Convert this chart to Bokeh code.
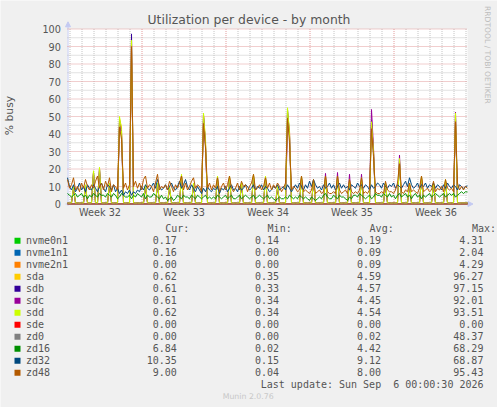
import math
from bokeh.plotting import figure
from bokeh.models import Range1d, Label, BoxAnnotation, Arrow, NormalHead
from bokeh.core.properties import value
from bokeh.embed import file_html
from bokeh.resources import INLINE

# ---------------- data ----------------
TITLE = "Utilization per device - by month"
Y_LABEL = "% busy"
WEEK_LABELS = ["Week 32", "Week 33", "Week 34", "Week 35", "Week 36"]
WEEK_LABEL_HOURS = [65, 233, 401, 569, 737]      # hours since start of graph
MONDAY_HOURS = [149, 317, 485, 653]
X_END_HOURS = 800
Y_TICKS = [0, 10, 20, 30, 40, 50, 60, 70, 80, 90, 100]
Y_MINOR = [5, 15, 25, 35, 45, 55, 65, 75, 85, 95]

sample_hours = list(range(0, 801, 4))           # one sample every 4 hours

zd48 = [
    14, 9, 11, 15, 8, 10,   7, 12, 9, 14, 10, 8,   11, 9, 13, 16, 9, 12,
    8, 13, 10, 15, 7, 11,   10, 8, 44, 37, 9, 12,  8, 11, 90, 10, 13, 9,
    12, 8, 14, 16, 9, 11,   10, 7, 12, 17, 8, 10,  9, 11, 8, 13, 10, 7,
    11, 9, 12, 16, 8, 12,   8, 10, 13, 15, 9, 11,  10, 7, 46, 32, 9, 12,
    8, 11, 9, 15, 7, 10,    12, 8, 11, 16, 9, 7,   9, 12, 8, 13, 10, 11,
    7, 10, 12, 17, 8, 9,    11, 8, 10, 15, 9, 12,  8, 11, 9, 12, 10, 7,
    9, 12, 49, 35, 8, 10,   9, 7, 8, 16, 7, 8,     7, 6, 8, 14, 6, 7,
    8, 6, 7, 16, 7, 6,      6, 7, 6, 16, 8, 6,     7, 8, 6, 14, 7, 6,
    7, 6, 8, 15, 6, 7,      6, 8, 43, 27, 7, 6,    6, 7, 6, 13, 8, 7,
    7, 6, 8, 12, 23, 7,     6, 8, 7, 12, 7, 8,     7, 6, 9, 16, 7, 8,
    9, 7, 8, 13, 7, 9,      8, 10, 7, 14, 9, 8,    9, 7, 47, 12, 8, 10,
    8, 10, 9.0,
]

zd32 = [
    15, 10, 8, 11, 7, 9,    12, 8, 10, 7, 11, 9,   8, 11, 9, 7, 10, 12,
    9, 7, 11, 10, 8, 11,    7, 9, 6, 8, 5, 7,      6, 8, 5, 7, 6, 8,
    7, 10, 8, 11, 9, 8,     10, 12, 9, 14, 10, 8,  9, 11, 8, 10, 12, 9,
    8, 10, 13, 9, 11, 14,   10, 8, 11, 9, 7, 10,   8, 6, 9, 7, 10, 8,
    7, 9, 8, 10, 6, 9,      8, 10, 7, 9, 11, 8,    9, 7, 10, 8, 9, 11,
    10, 8, 9, 11, 8, 10,    9, 11, 8, 10, 9, 7,    8, 10, 9, 11, 8, 9,
    10, 8, 11, 9, 7, 9,     11, 9, 12, 10, 8, 11,  9, 13, 10, 14, 11, 9,
    10, 8, 11, 9, 10, 12,   9, 11, 8, 10, 12, 9,   11, 9, 10, 8, 11, 10,
    9, 12, 10, 11, 9, 11,   10, 8, 11, 9, 10, 12,  11, 9, 12, 10, 9, 11,
    10, 12, 9, 11, 10, 9,   11, 13, 10, 15, 11, 9, 10, 12, 9, 11, 10, 12,
    9, 11, 10, 12, 9, 11,   10, 8, 11, 9, 12, 10,  9, 11, 10, 8, 11, 10,
    9, 10, 10.35,
]

zd16 = [
    6, 5, 4, 5, 6, 4,   5, 6, 4, 5, 3, 5,   4, 6, 5, 4, 6, 5,
    5, 4, 6, 5, 4, 6,   5, 3, 4, 6, 5, 4,   4, 5, 3, 5, 4, 6,
    5, 4, 6, 3, 5, 4,   4, 6, 5, 4, 3, 5,   3, 4, 2, 3, 4, 2,
    3, 5, 4, 3, 5, 4,   4, 3, 5, 4, 3, 5,   4, 3, 4, 5, 3, 4,
    3, 4, 3, 5, 4, 3,   4, 5, 3, 4, 5, 3,   3, 4, 5, 3, 4, 5,
    4, 3, 4, 5, 3, 4,   5, 4, 3, 4, 5, 3,   4, 3, 2, 3, 4, 3,
    3, 4, 3, 5, 4, 3,   4, 3, 5, 4, 3, 4,   3, 2, 4, 3, 2, 3,
    4, 3, 5, 6, 4, 3,   3, 5, 4, 3, 5, 4,   4, 3, 2, 4, 3, 5,
    5, 4, 6, 5, 4, 3,   4, 5, 3, 4, 6, 5,   5, 4, 6, 5, 4, 6,
    4, 5, 3, 5, 6, 4,   5, 6, 4, 5, 3, 5,   6, 4, 5, 3, 5, 4,
    5, 6, 4, 5, 6, 5,   4, 5, 6, 4, 5, 6,   5, 6, 4, 5, 6, 7,
    6, 7, 6.84,
]

sdd = [
    0.6, 0.5, 0.6, 10, 0.5, 0.6,   0.5, 0.6, 0.5, 11, 0.6, 0.5,   0.6, 19, 0.6, 0.5, 21, 0.6,
    0.5, 0.6, 0.5, 12, 0.6, 0.5,   0.6, 0.5, 50, 42, 0.6, 0.5,    0.6, 0.5, 93.5, 0.6, 0.5, 0.6,
    0.5, 0.6, 0.5, 11, 0.6, 0.5,   0.6, 0.5, 0.6, 12, 0.5, 0.6,   0.5, 0.6, 0.5, 10, 0.6, 0.5,
    0.6, 0.5, 0.6, 17, 0.5, 0.6,   0.5, 0.6, 0.5, 12, 0.6, 0.5,   0.6, 0.5, 52, 35, 0.6, 0.5,
    0.6, 0.5, 0.6, 16, 0.5, 0.6,   0.5, 0.6, 0.5, 16, 0.6, 0.5,   0.6, 0.5, 0.6, 12, 0.5, 0.6,
    0.5, 0.6, 0.5, 17, 0.6, 0.5,   0.6, 0.5, 0.6, 16, 0.5, 0.6,   0.5, 0.6, 0.5, 10, 0.6, 0.5,
    0.6, 0.5, 55, 40, 0.6, 0.5,    0.6, 0.5, 0.6, 16, 0.5, 0.6,   0.5, 0.6, 0.5, 14, 0.6, 0.5,
    0.6, 0.5, 0.6, 16, 0.5, 0.6,   0.5, 0.6, 0.5, 16, 0.6, 0.5,   0.6, 0.5, 0.6, 14, 0.5, 0.6,
    0.5, 0.6, 0.5, 15, 0.6, 0.5,   0.6, 0.5, 47, 30, 0.6, 0.5,    0.6, 0.5, 0.6, 12, 0.5, 0.6,
    0.5, 0.6, 0.5, 0.6, 26, 0.6,   0.6, 0.5, 0.6, 12, 0.5, 0.6,   0.5, 0.6, 0.5, 16, 0.6, 0.5,
    0.6, 0.5, 0.6, 12, 0.5, 0.6,   0.5, 0.6, 0.5, 14, 0.6, 0.5,   0.6, 0.5, 52, 0.6, 0.5, 0.6,
    0.6, 0.6, 0.62,
]

sda = [
    0.6, 0.5, 0.6, 9.5, 0.5, 0.6,  0.5, 0.6, 0.5, 10.5, 0.6, 0.5, 0.6, 18.5, 0.6, 0.5, 20.5, 0.6,
    0.5, 0.6, 0.5, 11.5, 0.6, 0.5, 0.6, 0.5, 49, 44, 0.6, 0.5,    0.6, 0.5, 96.3, 0.6, 0.5, 0.6,
    0.5, 0.6, 0.5, 10.5, 0.6, 0.5, 0.6, 0.5, 0.6, 11.5, 0.5, 0.6, 0.5, 0.6, 0.5, 9.5, 0.6, 0.5,
    0.6, 0.5, 0.6, 16.5, 0.5, 0.6, 0.5, 0.6, 0.5, 11.5, 0.6, 0.5, 0.6, 0.5, 51, 37, 0.6, 0.5,
    0.6, 0.5, 0.6, 15.5, 0.5, 0.6, 0.5, 0.6, 0.5, 15.5, 0.6, 0.5, 0.6, 0.5, 0.6, 11.5, 0.5, 0.6,
    0.5, 0.6, 0.5, 16.5, 0.6, 0.5, 0.6, 0.5, 0.6, 15.5, 0.5, 0.6, 0.5, 0.6, 0.5, 9.5, 0.6, 0.5,
    0.6, 0.5, 53, 42, 0.6, 0.5,    0.6, 0.5, 0.6, 15.5, 0.5, 0.6, 0.5, 0.6, 0.5, 13.5, 0.6, 0.5,
    0.6, 0.5, 0.6, 15.5, 0.5, 0.6, 0.5, 0.6, 0.5, 15.5, 0.6, 0.5, 0.6, 0.5, 0.6, 13.5, 0.5, 0.6,
    0.5, 0.6, 0.5, 14.5, 0.6, 0.5, 0.6, 0.5, 46, 31, 0.6, 0.5,    0.6, 0.5, 0.6, 11.5, 0.5, 0.6,
    0.5, 0.6, 0.5, 0.6, 25, 0.6,   0.6, 0.5, 0.6, 11.5, 0.5, 0.6, 0.5, 0.6, 0.5, 15.5, 0.6, 0.5,
    0.6, 0.5, 0.6, 11.5, 0.5, 0.6, 0.5, 0.6, 0.5, 13.5, 0.6, 0.5, 0.6, 0.5, 51, 0.6, 0.5, 0.6,
    0.6, 0.6, 0.62,
]

sdb = [
    0.6, 0.5, 0.6, 9, 0.5, 0.6,    0.5, 0.6, 0.5, 10, 0.6, 0.5,   0.6, 18, 0.6, 0.5, 20, 0.6,
    0.5, 0.6, 0.5, 11, 0.6, 0.5,   0.6, 0.5, 48, 41, 0.6, 0.5,    0.6, 0.5, 97.2, 0.6, 0.5, 0.6,
    0.5, 0.6, 0.5, 10, 0.6, 0.5,   0.6, 0.5, 0.6, 11, 0.5, 0.6,   0.5, 0.6, 0.5, 9, 0.6, 0.5,
    0.6, 0.5, 0.6, 16, 0.5, 0.6,   0.5, 0.6, 0.5, 11, 0.6, 0.5,   0.6, 0.5, 50, 34, 0.6, 0.5,
    0.6, 0.5, 0.6, 15, 0.5, 0.6,   0.5, 0.6, 0.5, 15, 0.6, 0.5,   0.6, 0.5, 0.6, 11, 0.5, 0.6,
    0.5, 0.6, 0.5, 16, 0.6, 0.5,   0.6, 0.5, 0.6, 15, 0.5, 0.6,   0.5, 0.6, 0.5, 9, 0.6, 0.5,
    0.6, 0.5, 54, 39, 0.6, 0.5,    0.6, 0.5, 0.6, 15, 0.5, 0.6,   0.5, 0.6, 0.5, 13, 0.6, 0.5,
    0.6, 0.5, 0.6, 15, 0.5, 0.6,   0.5, 0.6, 0.5, 15, 0.6, 0.5,   0.6, 0.5, 0.6, 13, 0.5, 0.6,
    0.5, 0.6, 0.5, 14, 0.6, 0.5,   0.6, 0.5, 48, 29, 0.6, 0.5,    0.6, 0.5, 0.6, 11, 0.5, 0.6,
    0.5, 0.6, 0.5, 0.6, 25, 0.6,   0.6, 0.5, 0.6, 11, 0.5, 0.6,   0.5, 0.6, 0.5, 15, 0.6, 0.5,
    0.6, 0.5, 0.6, 11, 0.5, 0.6,   0.5, 0.6, 0.5, 13, 0.6, 0.5,   0.6, 0.5, 50, 0.6, 0.5, 0.6,
    0.6, 0.6, 0.61,
]

sdc = [
    0.6, 0.5, 0.6, 9, 0.5, 0.6,    0.5, 0.6, 0.5, 10, 0.6, 0.5,   0.6, 18, 0.6, 0.5, 20, 0.6,
    0.5, 0.6, 0.5, 11, 0.6, 0.5,   0.6, 0.5, 47, 40, 0.6, 0.5,    0.6, 0.5, 92, 0.6, 0.5, 0.6,
    0.5, 0.6, 0.5, 10, 0.6, 0.5,   0.6, 0.5, 0.6, 11, 0.5, 0.6,   0.5, 0.6, 0.5, 9, 0.6, 0.5,
    0.6, 0.5, 0.6, 16, 0.5, 0.6,   0.5, 0.6, 0.5, 11, 0.6, 0.5,   0.6, 0.5, 51, 33, 0.6, 0.5,
    0.6, 0.5, 0.6, 15, 0.5, 0.6,   0.5, 0.6, 0.5, 15, 0.6, 0.5,   0.6, 0.5, 0.6, 11, 0.5, 0.6,
    0.5, 0.6, 0.5, 16, 0.6, 0.5,   0.6, 0.5, 0.6, 15, 0.5, 0.6,   0.5, 0.6, 0.5, 9, 0.6, 0.5,
    0.6, 0.5, 45, 41, 0.6, 0.5,    0.6, 0.5, 0.6, 15, 0.5, 0.6,   0.5, 0.6, 0.5, 13, 0.6, 0.5,
    0.6, 0.5, 0.6, 17.5, 0.5, 0.6, 0.5, 0.6, 0.5, 18, 0.6, 0.5,   0.6, 0.5, 0.6, 17, 0.5, 0.6,
    0.5, 0.6, 0.5, 17, 0.6, 0.5,   0.6, 0.5, 54, 32, 0.6, 0.5,    0.6, 0.5, 0.6, 11, 0.5, 0.6,
    0.5, 0.6, 0.5, 0.6, 28, 0.6,   0.6, 0.5, 0.6, 11, 0.5, 0.6,   0.5, 0.6, 0.5, 15, 0.6, 0.5,
    0.6, 0.5, 0.6, 11, 0.5, 0.6,   0.5, 0.6, 0.5, 13, 0.6, 0.5,   0.6, 0.5, 52.5, 0.6, 0.5, 0.6,
    0.6, 0.6, 0.61,
]

# near-zero devices, sampled sparsely
low_hours = [0, 200, 400, 600, 800]
nvme0n1 = [0.20, 0.18, 0.19, 0.20, 0.17]
nvme1n1 = [0.10, 0.08, 0.09, 0.10, 0.16]
nvme2n1 = [0.10, 0.09, 0.08, 0.10, 0.00]
sde = [0.0, 0.0, 0.0, 0.0, 0.0]
zd0 = [0.0, 0.0, 0.0, 0.0, 0.0]

NAMES = ["nvme0n1", "nvme1n1", "nvme2n1", "sda", "sdb", "sdc", "sdd", "sde",
         "zd0", "zd16", "zd32", "zd48"]
COLORS = ["#00CC00", "#0066B3", "#FF8000", "#FFCC00", "#330099", "#990099",
          "#CCFF00", "#FF0000", "#808080", "#008F00", "#00487D", "#B35A00"]
CUR = [0.17, 0.16, 0.00, 0.62, 0.61, 0.61, 0.62, 0.00, 0.00, 6.84, 10.35, 9.00]
MIN = [0.14, 0.00, 0.00, 0.35, 0.33, 0.34, 0.34, 0.00, 0.00, 0.02, 0.15, 0.04]
AVG = [0.19, 0.09, 0.09, 4.59, 4.57, 4.45, 4.54, 0.00, 0.02, 4.42, 9.12, 8.00]
MAX = [4.31, 2.04, 4.29, 96.27, 97.15, 92.01, 93.51, 0.00, 48.37, 68.29, 68.87, 95.43]
LAST_UPDATE = "Last update: Sun Sep \u00a06 00:00:30 2026"
FOOTER = "Munin 2.0.76"
WATERMARK = "RRDTOOL / TOBI OETIKER"

# ---------------- layout / style ----------------
W, H = 497, 407
PLOT_X0, PX_PER_HOUR = 67.0, 0.5      # page x of hour 0, pixels per hour
PLOT_Y0, PX_PER_UNIT = 203.5, 1.75    # page y of 0 %, pixels per percent
FONT = "DejaVu Sans"
MONO = "DejaVu Sans Mono"
FONT_COL = "#555555"
AXIS_COL = "#c4caf2"
MGRID_COL = "#e39c9c"
GRID_COL = "#c4c4c4"

p = figure(width=W, height=H,
           x_range=Range1d(-PLOT_X0 / PX_PER_HOUR, (W - PLOT_X0) / PX_PER_HOUR),
           y_range=Range1d(-(H - PLOT_Y0) / PX_PER_UNIT, PLOT_Y0 / PX_PER_UNIT),
           output_backend="svg", toolbar_location=None,
           x_axis_location=None, y_axis_location=None,
           min_border=0, background_fill_color="#f0f0f0",
           border_fill_color="#f0f0f0", outline_line_color=None)
p.grid.visible = False
p.title.visible = False

# white canvas of the graph
p.add_layout(BoxAnnotation(left=0, right=X_END_HOURS, bottom=0, top=100,
                           fill_color="white", fill_alpha=1.0, line_color=None,
                           level="underlay"))

# grid
day_hours = [h for h in range(5, X_END_HOURS + 1, 24) if h not in MONDAY_HOURS]
p.segment(x0=day_hours, y0=0, x1=day_hours, y1=100, line_color=GRID_COL,
          line_dash="1 1", line_width=1)
p.segment(x0=0, y0=Y_MINOR, x1=X_END_HOURS, y1=Y_MINOR, line_color=GRID_COL,
          line_dash="1 1", line_width=1)
p.segment(x0=MONDAY_HOURS, y0=0, x1=MONDAY_HOURS, y1=100, line_color=MGRID_COL,
          line_dash="1 1", line_width=1)
p.segment(x0=0, y0=Y_TICKS[1:], x1=X_END_HOURS, y1=Y_TICKS[1:], line_color=MGRID_COL,
          line_dash="1 1", line_width=1)

# axes with arrows
head = dict(size=5, fill_color=AXIS_COL, line_color=AXIS_COL)
p.add_layout(Arrow(end=NormalHead(**head), x_start=1, y_start=-1, x_end=1, y_end=104.1,
                   line_color=AXIS_COL, line_width=1, level="underlay"))
p.add_layout(Arrow(end=NormalHead(**head), x_start=-4, y_start=0, x_end=811, y_end=0,
                   line_color=AXIS_COL, line_width=1, level="underlay"))

# tick labels (centred vertically on their value)
p.text(x=0, y=Y_TICKS, text=[str(t) for t in Y_TICKS], x_offset=-6.6,
       text_align="right", text_baseline="middle", text_font=value(FONT),
       text_font_size=value("9.7px"), text_color=FONT_COL)
WEEK_LABEL_MID_PX = 212.3
p.text(x=WEEK_LABEL_HOURS, y=(PLOT_Y0 - WEEK_LABEL_MID_PX) / PX_PER_UNIT, text=WEEK_LABELS,
       text_align="center", text_baseline="middle", text_font=value(FONT),
       text_font_size=value("9.7px"), text_color=FONT_COL)

# series, near-zero ones first so the disks stay visible on top
low = {"nvme0n1": nvme0n1, "nvme1n1": nvme1n1, "nvme2n1": nvme2n1, "sde": sde, "zd0": zd0}
main = {"sda": sda, "sdb": sdb, "sdc": sdc, "sdd": sdd, "zd16": zd16, "zd32": zd32, "zd48": zd48}
color_of = dict(zip(NAMES, COLORS))
for name in ["nvme0n1", "nvme1n1", "nvme2n1", "sde", "zd0"]:
    p.line(low_hours, low[name], line_color=color_of[name], line_width=1)
for name in ["sda", "sdb", "sdc", "sdd", "zd16", "zd32", "zd48"]:
    p.line(sample_hours, main[name], line_color=color_of[name], line_width=1)


# texts placed in page pixels (frame covers the whole canvas); Y is the text's middle
def label(X, Y, text, font=FONT, size=10.0, color=FONT_COL, align="left", angle=0.0):
    p.add_layout(Label(x=X, y=H - Y, x_units="screen", y_units="screen", text=text,
                       text_font=font, text_font_size=f"{size}px", text_color=color,
                       text_align=align, text_baseline="middle", angle=angle))


label(248.5, 18.8, TITLE, size=12.4, align="center")
label(9.0, 115, Y_LABEL, size=10.8, align="center", angle=math.pi / 2)
label(487.4, 5.5, WATERMARK, size=7.6, color="#bdbdbd", angle=-math.pi / 2)

# legend table
VALUE_RIGHT = [176.3, 278.6, 380.6, 482.9]
HEADERS = ["Cur:", "Min:", "Avg:", "Max:"]
for xr, hd in zip(VALUE_RIGHT, HEADERS):
    label(xr - 11.5, 227.8, hd, font=MONO)
for i, name in enumerate(NAMES):
    mid = 239.8 + 12 * i
    p.add_layout(BoxAnnotation(left=14, right=20, bottom=H - mid - 3.5, top=H - mid + 2.5,
                               left_units="screen", right_units="screen",
                               bottom_units="screen", top_units="screen",
                               fill_color=COLORS[i], fill_alpha=1.0, line_color=None))
    label(25.4, mid, name, font=MONO)
    for xr, vals in zip(VALUE_RIGHT, (CUR, MIN, AVG, MAX)):
        label(xr, mid, f"{vals[i]:.2f}", font=MONO, align="right")
label(483.0, 383.8, LAST_UPDATE, font=MONO, align="right")
label(247.7, 395.6, FOOTER, size=7.8, color="#c8c8c8", align="center")

open("out.html", "w").write(file_html(p, INLINE))
